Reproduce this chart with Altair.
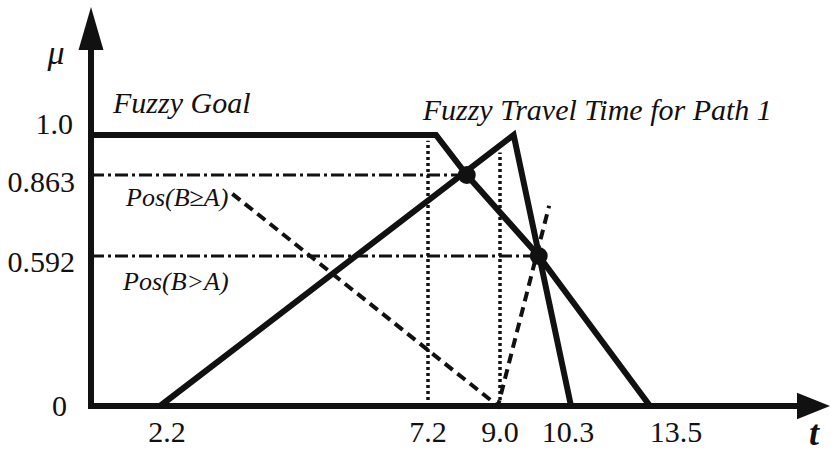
import altair as alt
import pandas as pd

# ---- membership functions on the (t, mu) plane ----
goal_t = [0.0, 7.4, 8.17, 9.71, 13.5]          # fuzzy goal (decreasing side)
goal_mu = [1.0, 1.0, 0.863, 0.592, 0.0]

travel_t = [2.2, 9.25, 10.3]                    # triangular fuzzy travel time
travel_mu = [0.0, 1.0, 0.0]

dot_t = [8.17, 9.71]                            # intersection points
dot_mu = [0.863, 0.592]

level_mu = [0.863, 0.592]                       # possibility levels (dash-dot guides)
level_t_end = [8.17, 9.71]

vert_t = [7.2, 9.0]                             # dotted verticals
vert_mu_top = [0.98, 0.94]

pos_t = [3.55, 8.95, 9.9]                       # dashed possibility construction
pos_mu = [0.80, 0.0, 0.76]

x_ticks = [2.2, 7.2, 9.0, 10.3, 13.5]
x_tick_labels = ["2.2", "7.2", "9.0", "10.3", "13.5"]
y_ticks = [1.0, 0.863, 0.592, 0.0]
y_tick_labels = ["1.0", "0.863", "0.592", "0"]

T_AXIS_END, T_TIP = 16.4, 17.0
MU_AXIS_END, MU_TIP = 1.33, 1.5

# ---- piecewise scales (schematic, not to scale) ----
xs = alt.Scale(domain=[0, 2.2, 7.2, 9.0, 10.3, 13.5, T_TIP],
               range=[91, 160, 428, 500, 571, 650, 830], nice=False, zero=False)
ys = alt.Scale(domain=[0, 0.592, 0.863, 1.0, MU_TIP],
               range=[406, 256, 175, 135, 7], nice=False, zero=False)

INK = "#111111"
FONT = "Liberation Serif"


def X(f="t"):
    return alt.X(f"{f}:Q", scale=xs, axis=None)


def Y(f="mu"):
    return alt.Y(f"{f}:Q", scale=ys, axis=None)


layers = []

# axes with arrow heads
layers.append(alt.Chart(pd.DataFrame({"t": [0.0], "t2": [T_AXIS_END], "mu": [0.0]}))
              .mark_rule(color=INK, strokeWidth=6, strokeCap="square")
              .encode(x=X(), x2="t2:Q", y=Y()))
layers.append(alt.Chart(pd.DataFrame({"t": [0.0], "mu": [0.0], "mu2": [MU_AXIS_END]}))
              .mark_rule(color=INK, strokeWidth=6, strokeCap="square")
              .encode(x=X(), y=Y(), y2="mu2:Q"))
layers.append(alt.Chart(pd.DataFrame({"t": [T_TIP], "mu": [0.0]}))
              .mark_point(shape="M0,0L-2,-0.8L-2,0.8Z", size=1089, filled=True,
                          color=INK, opacity=1)
              .encode(x=X(), y=Y()))
layers.append(alt.Chart(pd.DataFrame({"t": [0.0], "mu": [MU_TIP]}))
              .mark_point(shape="M0,0L-0.58,2L0.58,2Z", size=1849, filled=True,
                          color=INK, opacity=1)
              .encode(x=X(), y=Y()))

# dotted verticals
layers.append(alt.Chart(pd.DataFrame({"t": vert_t, "mu": [0.0] * 2, "mu2": vert_mu_top}))
              .mark_rule(color=INK, strokeWidth=3.5, strokeDash=[3, 3])
              .encode(x=X(), y=Y(), y2="mu2:Q"))

# dash-dot level lines
layers.append(alt.Chart(pd.DataFrame({"t": [0.0] * 2, "t2": level_t_end, "mu": level_mu}))
              .mark_rule(color=INK, strokeWidth=3, strokeDash=[13, 4, 3, 4])
              .encode(x=X(), x2="t2:Q", y=Y()))

# dashed construction lines
layers.append(alt.Chart(pd.DataFrame({"t": pos_t, "mu": pos_mu, "i": range(len(pos_t))}))
              .mark_line(color=INK, strokeWidth=4, strokeDash=[10, 6])
              .encode(x=X(), y=Y(), order="i:O"))

# membership functions
layers.append(alt.Chart(pd.DataFrame({"t": goal_t, "mu": goal_mu, "i": range(len(goal_t))}))
              .mark_line(color=INK, strokeWidth=6, strokeJoin="miter")
              .encode(x=X(), y=Y(), order="i:O"))
layers.append(alt.Chart(pd.DataFrame({"t": travel_t, "mu": travel_mu, "i": range(len(travel_t))}))
              .mark_line(color=INK, strokeWidth=6, strokeJoin="miter")
              .encode(x=X(), y=Y(), order="i:O"))

# intersection dots
layers.append(alt.Chart(pd.DataFrame({"t": dot_t, "mu": dot_mu}))
              .mark_circle(size=320, color=INK, opacity=1)
              .encode(x=X(), y=Y()))

# tick labels on the t axis
x_dx = {"2.2": 7, "7.2": 0, "9.0": 0, "10.3": -3, "13.5": 26}
for v, lab in zip(x_ticks, x_tick_labels):
    layers.append(alt.Chart(pd.DataFrame({"t": [v], "mu": [0.0], "s": [lab]}))
                  .mark_text(font=FONT, fontSize=30, color=INK, align="center",
                             baseline="alphabetic", dx=x_dx[lab], dy=36)
                  .encode(x=X(), y=Y(), text="s:N"))

# tick labels on the mu axis
y_off = {"1.0": (-18, -1), "0.863": (-16, 17), "0.592": (-16, 16), "0": (-24, 10)}
for v, lab in zip(y_ticks, y_tick_labels):
    dx, dy = y_off[lab]
    layers.append(alt.Chart(pd.DataFrame({"t": [0.0], "mu": [v], "s": [lab]}))
                  .mark_text(font=FONT, fontSize=30, color=INK, align="right",
                             baseline="alphabetic", dx=dx, dy=dy)
                  .encode(x=X(), y=Y(), text="s:N"))

# annotations
notes = [
    # text, t, mu, dx, dy, align, size, weight
    ("Fuzzy Goal", 0.0, 1.0, 22, -22, "left", 30, "normal"),
    ("Fuzzy Travel Time for Path 1", 9.25, 1.0, -91, -15, "left", 30, "normal"),
    ("Pos(B\u2265A)", 3.55, 0.80, -4, 12, "right", 26, "normal"),
    ("Pos(B>A)", 0.0, 0.592, 32, 34, "left", 26, "normal"),
    ("\u03bc", 0.0, 1.3, -35, 6, "center", 34, "normal"),
    ("t", T_TIP, 0.0, -16, 39, "center", 36, "bold"),
]
for s, t, mu, dx, dy, align, size, weight in notes:
    layers.append(alt.Chart(pd.DataFrame({"t": [t], "mu": [mu], "s": [s]}))
                  .mark_text(font=FONT, fontSize=size, fontStyle="italic",
                             fontWeight=weight, color=INK, align=align,
                             baseline="alphabetic", dx=dx, dy=dy)
                  .encode(x=X(), y=Y(), text="s:N"))

chart = (alt.layer(*layers)
         .properties(width=831, height=456, padding=0, autosize="none",
                     background="white")
         .configure_view(stroke=None))

chart.save("out.html", embed_options={"renderer": "svg", "actions": False})
